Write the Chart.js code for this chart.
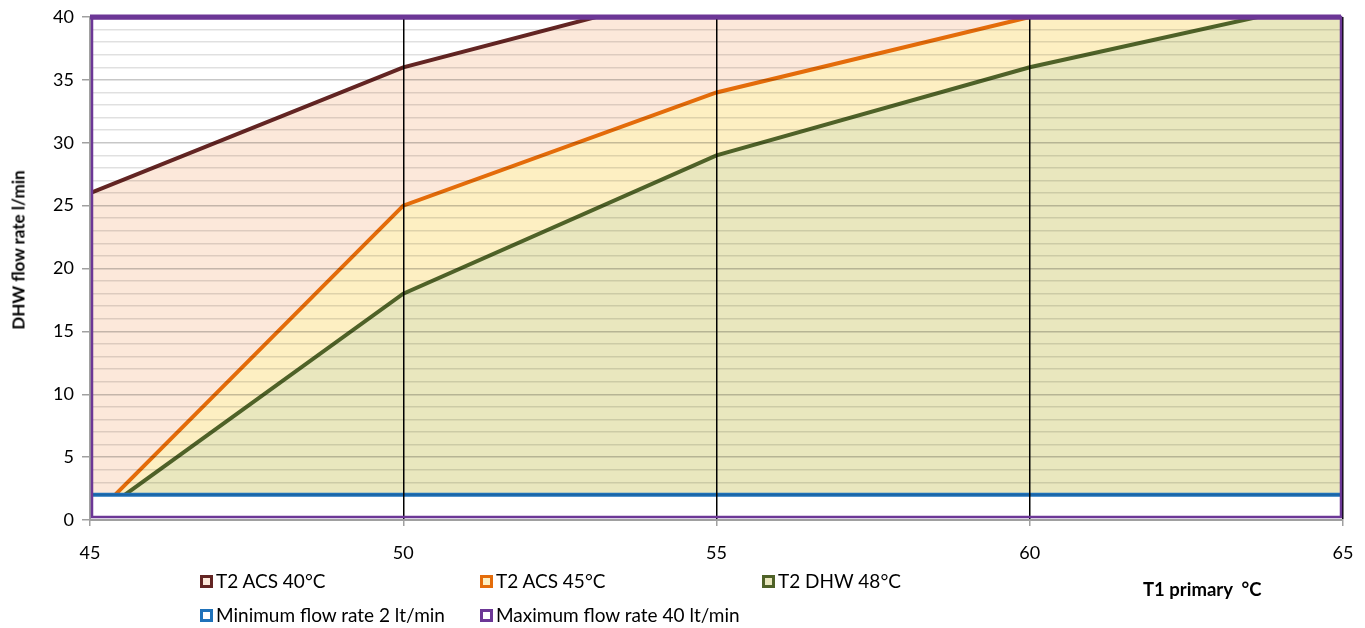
<!DOCTYPE html>
<html>
<head>
<meta charset="utf-8">
<script src="https://cdn.jsdelivr.net/npm/chart.js@4.4.1/dist/chart.umd.min.js"></script>
<style>
  body { margin: 0; background: #fff; font-family: Lato, "Open Sans", sans-serif; }
  #wrap { position: relative; width: 1365px; height: 628px; }
  #grafico { position: absolute; left: 0; top: 0; }
  .y-title { position: absolute; left: 18px; top: 250px; transform: translate(-50%, -50%) rotate(-90deg);
    font-weight: bold; font-size: 17px; white-space: nowrap; color: #000; }
  .x-title { position: absolute; left: 1143px; top: 589px; transform: translateY(-50%); font-weight: bold; font-size: 18.5px;
    white-space: pre; color: #000; line-height: 22px; }
  .leg { position: absolute; display: flex; align-items: center; font-size: 19px; line-height: 22px; height: 22px;
    color: #000; white-space: nowrap; }
  .leg span.box { display: inline-block; width: 13px; height: 13px; box-sizing: border-box; border: 3px solid; margin-right: 3px; }
</style>
</head>
<body>
<div id="wrap">
  <canvas id="grafico" width="1365" height="628"></canvas>
  <div class="y-title">DHW flow rate l/min</div>
  <div class="x-title">T1 primary  °C</div>
  <div id="legenda"></div>
</div>
<script>
// temperatura primario T1 (°C)
const temperaturas = [45, 50, 55, 60, 65];
// portata ACS l/min per ogni serie
const acs40 = [26, 36, 42.5, 47, 51];
const acs45 = [0, 25, 34, 40, 44];
const dhw48 = [0, 18, 29, 36, 41.5];
const portataMin = [2, 2, 2, 2, 2];
const portataMax = [40, 40, 40, 40, 40];
const nomiSerie = ['T2 ACS 40°C', 'T2 ACS 45°C', 'T2 DHW 48°C', 'Minimum flow rate 2 lt/min', 'Maximum flow rate 40 lt/min'];
const yMin = 0, yMax = 40, yPassoEtichette = 5;
const xMin = 45, xMax = 65, xPasso = 5;

const viola = '#6C3796';

function punti(valori) {
  return temperaturas.map((t, i) => ({ x: t, y: valori[i] }));
}

function serie(i, valori, linea, riempimento, ordine, spessore) {
  return {
    label: nomiSerie[i],
    data: punti(valori),
    borderColor: linea,
    backgroundColor: riempimento || '#fff',
    fill: riempimento ? 'origin' : false,
    borderWidth: spessore || 4,
    pointRadius: 0,
    tension: 0,
    order: ordine
  };
}

const datasets = [
  serie(0, acs40, '#632523', '#FCE8DA', 5),
  serie(1, acs45, '#E46C0A', '#FDEFC2', 4),
  serie(2, dhw48, '#4F6228', '#E9E7BE', 3),
  serie(3, portataMin, '#1F72BA', '#FFFFFF', 2),
  serie(4, portataMax, viola, null, 1, 5)
];

// cornice viola attorno all'area del grafico
const cornice = {
  id: 'cornice',
  afterDraw(chart) {
    const a = chart.chartArea, ctx = chart.ctx;
    ctx.save();
    ctx.strokeStyle = viola;
    ctx.lineWidth = 2.5;
    ctx.strokeRect(a.left + 2, a.top, a.right - a.left - 4, a.bottom - a.top - 3);
    ctx.beginPath();
    ctx.lineWidth = 5;
    ctx.moveTo(a.left, a.top);
    ctx.lineTo(a.right - 2, a.top);
    ctx.stroke();
    ctx.restore();
  }
};

function disegnaGrafico() {
  new Chart(document.getElementById('grafico'), {
    type: 'line',
    data: { datasets },
    plugins: [cornice],
    options: {
      responsive: false,
      animation: false,
      layout: { padding: { top: 17, right: 22, left: 0, bottom: 0 } },
      plugins: { legend: { display: false }, tooltip: { enabled: false } },
      scales: {
        x: {
          type: 'linear', min: xMin, max: xMax,
          afterFit(s) { s.height = 108; s.paddingLeft = 0; s.paddingRight = 0; },
          ticks: { stepSize: xPasso, color: '#000', font: { family: 'Lato', size: 18 }, padding: 16 },
          grid: {
            z: 1,
            color: c => (c.tick.value === xMin ? 'rgba(0,0,0,0)' : '#000'),
            lineWidth: 1.5, tickLength: 6, tickColor: '#A0A0A0'
          },
          border: { display: true, color: '#A0A0A0', width: 2, z: 1 }
        },
        y: {
          min: yMin, max: yMax,
          afterFit(s) { s.width = 90; s.paddingTop = 0; s.paddingBottom = 0; },
          ticks: {
            stepSize: 1, autoSkip: false, color: '#000', font: { family: 'Lato', size: 18 }, padding: 8,
            callback: v => (v % yPassoEtichette === 0 ? v : '')
          },
          grid: {
            z: 1,
            color: c => {
              const v = c.tick.value;
              if (v <= 1 || v === yMax) return 'rgba(0,0,0,0)';
              return v % yPassoEtichette === 0 ? 'rgba(0,0,0,0.22)' : 'rgba(0,0,0,0.12)';
            },
            lineWidth: 1.5, tickLength: 8,
            tickColor: c => (c.tick.value % yPassoEtichette === 0 ? '#A0A0A0' : 'rgba(0,0,0,0)')
          },
          border: { display: true, color: '#A0A0A0', width: 2, z: 1 }
        }
      }
    }
  });
}

function legenda() {
  const posizioni = [[200, 570], [480, 570], [762, 570], [200, 604], [480, 604]];
  const interni = ['#FCE8DA', '#FDEFC2', '#E9E7BE', '#FFFFFF', '#FFFFFF'];
  const cont = document.getElementById('legenda');
  datasets.forEach((d, i) => {
    const el = document.createElement('div');
    el.className = 'leg';
    el.style.left = posizioni[i][0] + 'px';
    el.style.top = posizioni[i][1] + 'px';
    el.innerHTML = `<span class="box" style="border-color:${d.borderColor};background:${interni[i]}"></span>${d.label}`;
    cont.appendChild(el);
  });
}

document.addEventListener('DOMContentLoaded', () => {
  disegnaGrafico();
  legenda();
});
</script>
</body>
</html>
